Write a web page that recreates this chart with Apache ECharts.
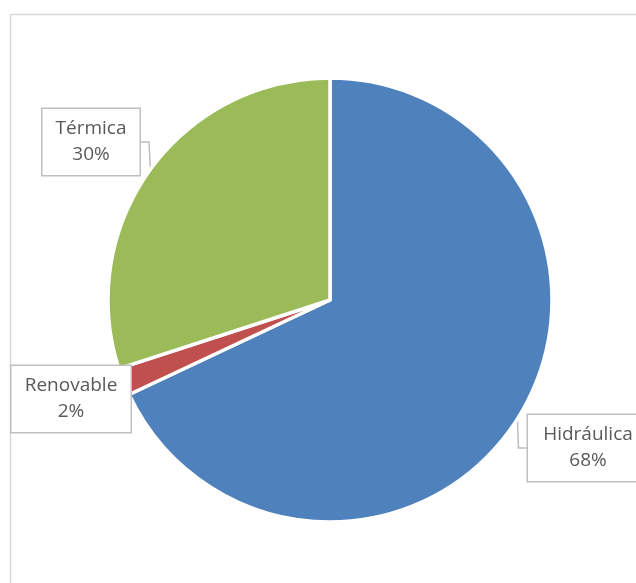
<!DOCTYPE html>
<html>
<head>
<meta charset="utf-8">
<script src="https://cdn.jsdelivr.net/npm/echarts@6/dist/echarts.min.js"></script>
<style>
  html, body { margin: 0; padding: 0; background: #fff; }
  #chart { width: 636px; height: 583px; }
</style>
</head>
<body>
<div id="chart"></div>
<script>
// generation share by source
const categories = ['Hidráulica', 'Renovable', 'Térmica']
const values = [68, 2, 30]
const colors = ['#4f81bd', '#c0504d', '#9bbb59']

// callout boxes: centre and inner text width
const labelSpots = [
    { x: 588, y: 448, w: 100 },
    { x: 71, y: 399, w: 99 },
    { x: 91, y: 142, w: 77 }
]

const chart = echarts.init(document.getElementById('chart'))

const option = {
    animation: false,
    graphic: [{
        type: 'rect',
        shape: { x: 10.5, y: 14.5, width: 700, height: 700 },
        style: { fill: 'none', stroke: '#d9d9d9', lineWidth: 1.5 },
        silent: true,
        z: -10
    }],
    series: [{
        type: 'pie',
        center: [330, 300],
        radius: 222,
        startAngle: 90,
        clockwise: true,
        data: categories.map((name, i) => ({
            name: name,
            value: values[i],
            itemStyle: { color: colors[i] },
            label: { width: labelSpots[i].w }
        })),
        itemStyle: {
            borderColor: '#fff',
            borderWidth: 3.5
        },
        label: {
            show: true,
            position: 'outside',
            formatter: p => p.name + '\n' + Math.round(p.percent) + '%',
            fontFamily: 'Open Sans',
            fontSize: 19,
            lineHeight: 26,
            color: '#595959',
            align: 'center',
            overflow: 'none',
            backgroundColor: '#fff',
            borderColor: '#bfbfbf',
            borderWidth: 1.5,
            padding: [7, 10, 7, 10]
        },
        labelLine: {
            show: true,
            length: 8,
            length2: 8,
            lineStyle: { color: '#bfbfbf', width: 1.5 }
        },
        labelLayout: p => ({
            x: labelSpots[p.dataIndex].x,
            y: labelSpots[p.dataIndex].y,
            width: labelSpots[p.dataIndex].w,
            align: 'center',
            verticalAlign: 'middle'
        }),
        emphasis: { disabled: true }
    }]
}

chart.setOption(option)
</script>
</body>
</html>
